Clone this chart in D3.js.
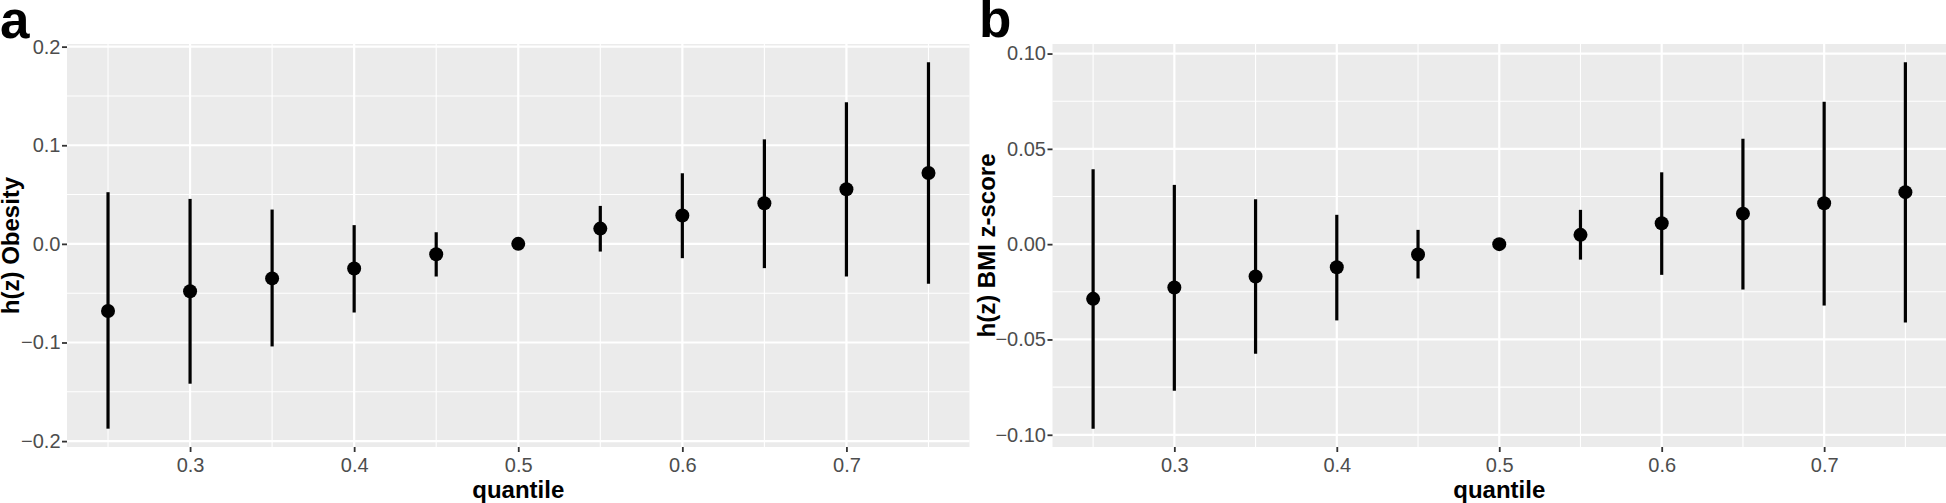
<!DOCTYPE html>
<html><head><meta charset="utf-8">
<script src="https://cdn.jsdelivr.net/npm/d3@7"></script>
<style>
body{margin:0;background:#fff}
svg{display:block}
text{font-family:"Liberation Sans",Arial,Helvetica,sans-serif}
</style>
</head><body>
<svg id="chart" width="1946" height="503"></svg>
<script>
// ---- data ----
const quantiles   = [0.25, 0.30, 0.35, 0.40, 0.45, 0.50, 0.55, 0.60, 0.65, 0.70, 0.75];
const obesityEst  = [-0.068, -0.048, -0.035, -0.025, -0.0105, 0, 0.0155, 0.0287, 0.0412, 0.0554, 0.0719];
const obesityLo   = [-0.1874, -0.1418, -0.104, -0.0696, -0.0331, 0, -0.0078, -0.0145, -0.0246, -0.0331, -0.0405];
const obesityHi   = [0.0524, 0.0456, 0.0348, 0.019, 0.0118, 0, 0.0385, 0.0716, 0.106, 0.1436, 0.1841];
const bmiEst      = [-0.0287, -0.0227, -0.017, -0.0121, -0.0054, 0, 0.0049, 0.011, 0.016, 0.0215, 0.0273];
const bmiLo       = [-0.0968, -0.0769, -0.0575, -0.04, -0.018, 0, -0.0081, -0.0161, -0.0238, -0.0322, -0.0411];
const bmiHi       = [0.0393, 0.0311, 0.0236, 0.0154, 0.0075, 0, 0.018, 0.0377, 0.0553, 0.0747, 0.0954];
const xTicks       = [0.3, 0.4, 0.5, 0.6, 0.7];
const obesityTicks = [-0.2, -0.1, 0.0, 0.1, 0.2];
const bmiTicks     = [-0.10, -0.05, 0.00, 0.05, 0.10];

const svg = d3.select("#chart");

function expand(lo, hi, m) { const r = hi - lo; return [lo - m * r, hi + m * r]; }
function minorsOf(ticks, dom) {
  const step = ticks[1] - ticks[0];
  const all = [ticks[0] - step, ...ticks, ticks[ticks.length - 1] + step];
  const out = [];
  for (let i = 0; i < all.length - 1; i++) {
    const m = (all[i] + all[i + 1]) / 2;
    if (m >= dom[0] && m <= dom[1]) out.push(m);
  }
  return out;
}

function panel(o) {
  const x = d3.scaleLinear()
    .domain(expand(d3.min(quantiles), d3.max(quantiles), 0.05))
    .range([o.left, o.right]);
  const y = d3.scaleLinear()
    .domain(expand(d3.min(o.lo), d3.max(o.hi), 0.05))
    .range([o.bottom, o.top]);

  const g = svg.append("g");
  g.append("rect").attr("x", o.left).attr("y", o.top)
    .attr("width", o.right - o.left).attr("height", o.bottom - o.top)
    .attr("fill", "#EBEBEB");

  const xMin = minorsOf(xTicks, x.domain());
  const yMin = minorsOf(o.ticks, y.domain());
  // minor grid
  g.selectAll(".gxm").data(xMin).join("line")
    .attr("x1", d => x(d)).attr("x2", d => x(d))
    .attr("y1", o.top).attr("y2", o.bottom)
    .attr("stroke", "#fff").attr("stroke-width", 1.1);
  g.selectAll(".gym").data(yMin).join("line")
    .attr("y1", d => y(d)).attr("y2", d => y(d))
    .attr("x1", o.left).attr("x2", o.right)
    .attr("stroke", "#fff").attr("stroke-width", 1.1);
  // major grid
  g.selectAll(".gx").data(xTicks).join("line")
    .attr("x1", d => x(d)).attr("x2", d => x(d))
    .attr("y1", o.top).attr("y2", o.bottom)
    .attr("stroke", "#fff").attr("stroke-width", 2.2);
  g.selectAll(".gy").data(o.ticks).join("line")
    .attr("y1", d => y(d)).attr("y2", d => y(d))
    .attr("x1", o.left).attr("x2", o.right)
    .attr("stroke", "#fff").attr("stroke-width", 2.2);

  // error bars
  g.selectAll(".eb").data(quantiles).join("line")
    .attr("x1", d => x(d)).attr("x2", d => x(d))
    .attr("y1", (d, i) => y(o.lo[i])).attr("y2", (d, i) => y(o.hi[i]))
    .attr("stroke", "#000").attr("stroke-width", 3.2);
  // points
  g.selectAll(".pt").data(quantiles).join("circle")
    .attr("cx", d => x(d)).attr("cy", (d, i) => y(o.est[i]))
    .attr("r", 7).attr("fill", "#000");

  // axes
  const ax = g.append("g").attr("transform", `translate(0,${o.bottom})`)
    .call(d3.axisBottom(x).tickValues(xTicks).tickFormat(d3.format(".1f")).tickSize(5).tickPadding(5.5));
  const ay = g.append("g").attr("transform", `translate(${o.left},0)`)
    .call(d3.axisLeft(y).tickValues(o.ticks).tickFormat(d3.format(o.fmt)).tickSize(5).tickPadding(1.5));
  [ax, ay].forEach(a => {
    a.select(".domain").remove();
    a.selectAll(".tick line").attr("stroke", "#333").attr("stroke-width", 1.8);
    a.selectAll(".tick text").attr("fill", "#4D4D4D").style("font-size", "20px")
      .style("font-family", '"Liberation Sans",Arial,sans-serif');
  });

  // titles
  g.append("text").attr("x", (o.left + o.right) / 2).attr("y", 498)
    .attr("text-anchor", "middle").attr("font-weight", "bold").attr("font-size", 24)
    .attr("fill", "#000").text("quantile");
  g.append("text")
    .attr("transform", `translate(${o.titleX},${(o.top + o.bottom) / 2}) rotate(-90)`)
    .attr("text-anchor", "middle").attr("font-weight", "bold").attr("font-size", 24)
    .attr("fill", "#000").text(o.title);
  g.append("text").attr("x", o.letterX).attr("y", o.letterY)
    .attr("font-weight", "bold").attr("font-size", 53).attr("fill", "#000").text(o.letter);
}

panel({left: 67, right: 969.5, top: 44, bottom: 447,
  est: obesityEst, lo: obesityLo, hi: obesityHi, ticks: obesityTicks, fmt: ".1f",
  title: "h(z) Obesity", titleX: 19, letter: "a", letterX: 0, letterY: 38});
panel({left: 1052.5, right: 1946, top: 44, bottom: 447,
  est: bmiEst, lo: bmiLo, hi: bmiHi, ticks: bmiTicks, fmt: ".2f",
  title: "h(z) BMI z-score", titleX: 995, letter: "b", letterX: 979, letterY: 37});
</script>
</body></html>
